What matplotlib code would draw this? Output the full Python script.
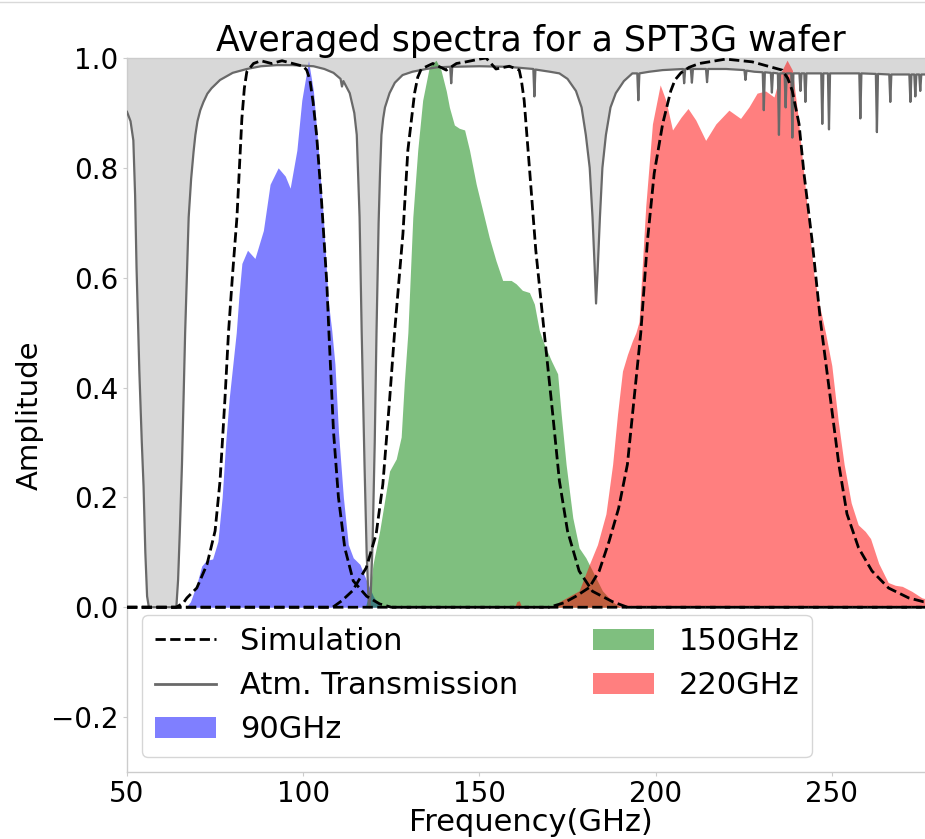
import matplotlib
matplotlib.use("Agg")
import matplotlib.pyplot as plt
from matplotlib.lines import Line2D
from matplotlib.patches import Patch

# ---------------- data ----------------
atm_freq = [50.0, 51.0, 51.8, 52.3, 52.7, 53.2, 53.5, 54.2, 54.7, 55.2, 55.7, 56.2,
            64.0, 64.5, 65.0, 65.6, 66.5, 67.5, 68.2, 68.9, 69.4, 70.0, 70.8, 71.7,
            72.8, 74.0, 76.4, 80.0, 84.0,
            88.0, 92.5, 97.0, 102.9, 106.0, 108.6, 110.6, 111.0, 111.4, 113.2, 114.5, 115.2,
            116.0, 116.6, 117.4, 118.0, 118.5, 118.75, 119.2, 119.7, 120.3, 120.8, 121.4, 121.8,
            122.2, 122.7,
            123.2, 124.5, 126.0, 128.2, 131.0, 134.9, 138.0, 141.7, 142.0, 142.3, 150.0, 158.0,
            165.3, 165.6, 165.9, 170.0, 172.7, 175.0, 177.4, 179.0, 180.2, 181.3, 182.1, 182.7,
            183.1, 183.6, 184.2, 184.9, 185.9, 187.2, 188.7, 191.0, 193.4, 194.8, 195.1, 195.4,
            198.2, 202.0, 207.8, 208.1, 208.4, 210.0, 210.3, 210.6, 214.3, 214.6, 214.9, 220.0,
            225.2, 225.5, 225.8, 228.0, 230.4, 230.7, 231.0, 232.7, 233.0, 233.3, 234.7, 235.0,
            235.3, 236.6, 236.9, 237.2, 238.5, 238.8, 239.1, 240.8, 241.1, 241.4, 242.2, 242.5,
            242.8, 247.0, 247.3, 247.6, 248.9, 249.2, 249.5, 257.8, 258.1, 258.4, 262.5, 262.8,
            263.1, 266.3, 266.6, 266.9, 272.0, 272.3, 272.6, 273.4, 273.7, 274.0, 274.8, 275.1,
            275.4, 279.0]
atm_trans = [0.902, 0.885, 0.85, 0.75, 0.62, 0.50, 0.43, 0.30, 0.22, 0.10, 0.02, 0.0,
             0.0, 0.05, 0.14, 0.26, 0.50, 0.71, 0.78, 0.83, 0.86, 0.885, 0.905, 0.92,
             0.935, 0.945, 0.96, 0.973, 0.98,
             0.985, 0.987, 0.987, 0.985, 0.98, 0.973, 0.962, 0.948, 0.958, 0.936, 0.90, 0.86,
             0.71, 0.50, 0.26, 0.10, 0.02, 0.0, 0.03, 0.12, 0.30, 0.50, 0.70, 0.79,
             0.86, 0.89,
             0.91, 0.936, 0.955, 0.969, 0.975, 0.98, 0.983, 0.984, 0.954, 0.984, 0.985, 0.984,
             0.98, 0.93, 0.979, 0.975, 0.972, 0.962, 0.94, 0.91, 0.86, 0.80, 0.71, 0.62,
             0.553, 0.62, 0.71, 0.80, 0.86, 0.91, 0.936, 0.958, 0.972, 0.972, 0.923, 0.972,
             0.975, 0.978, 0.98, 0.954, 0.98, 0.98, 0.955, 0.98, 0.98, 0.956, 0.98, 0.98,
             0.978, 0.96, 0.977, 0.975, 0.974, 0.905, 0.974, 0.973, 0.937, 0.973, 0.972, 0.86,
             0.972, 0.972, 0.91, 0.972, 0.972, 0.855, 0.972, 0.972, 0.94, 0.972, 0.972, 0.92,
             0.972, 0.972, 0.88, 0.972, 0.972, 0.87, 0.972, 0.972, 0.89, 0.972, 0.971, 0.865,
             0.971, 0.97, 0.92, 0.97, 0.97, 0.92, 0.97, 0.97, 0.93, 0.97, 0.97, 0.94,
             0.97, 0.97]

sim90_freq = [50.0, 64.0, 66.0, 67.0, 69.8, 72.7, 75.0, 76.4, 77.8, 78.8, 80.0, 81.2, 82.6,
              83.3, 84.0, 85.9, 88.0, 91.0, 94.0, 97.0, 100.0, 101.0, 101.9, 102.8, 103.8, 105.2,
              106.7, 107.3, 108.6, 110.0, 111.8, 114.2, 118.0, 121.7, 125.0, 279.0]
sim90_amp = [0.0, 0.0, 0.008, 0.017, 0.035, 0.078, 0.139, 0.23, 0.38, 0.50, 0.61, 0.71, 0.89,
             0.945, 0.975, 0.99, 0.995, 0.99, 0.995, 0.99, 0.985, 0.978, 0.96, 0.92, 0.86, 0.74,
             0.59, 0.50, 0.32, 0.20, 0.108, 0.048, 0.02, 0.006, 0.0, 0.0]

sim150_freq = [50.0, 108.4, 111.0, 114.0, 117.9, 120.7, 122.6, 124.5, 125.9, 127.5, 128.3, 129.7,
               131.6, 132.5, 133.5, 136.8, 140.6, 143.5, 146.2, 150.0, 151.9, 154.7, 158.5, 161.3,
               161.9, 162.7, 164.2, 166.0, 168.4, 170.8, 172.7, 175.0, 178.3, 182.1, 187.8, 192.0,
               279.0]
sim150_amp = [0.0, 0.0, 0.012, 0.03, 0.072, 0.133, 0.224, 0.376, 0.498, 0.62, 0.68, 0.832,
              0.936, 0.965, 0.98, 0.99, 0.978, 0.99, 0.993, 0.998, 1.0, 0.98, 0.985, 0.978,
              0.96, 0.923, 0.80, 0.65, 0.50, 0.352, 0.23, 0.139, 0.066, 0.029, 0.01, 0.0,
              0.0]

sim220_freq = [50.0, 169.8, 174.0, 177.4, 181.2, 184.0, 186.8, 189.5, 192.0, 193.9, 195.8, 197.7,
               199.6, 202.0, 204.3, 205.5, 207.2, 209.5, 212.4, 219.9, 227.4, 235.9, 237.5, 238.8,
               240.7, 242.1, 244.4, 246.8, 249.6, 252.0, 254.3, 257.6, 261.4, 266.1, 271.8, 276.0,
               279.0]
sim220_amp = [0.0, 0.0, 0.008, 0.02, 0.036, 0.066, 0.12, 0.18, 0.26, 0.38, 0.50, 0.668,
              0.79, 0.88, 0.94, 0.96, 0.973, 0.983, 0.99, 0.998, 0.993, 0.978, 0.963, 0.94,
              0.88, 0.79, 0.668, 0.52, 0.38, 0.26, 0.17, 0.108, 0.066, 0.035, 0.017, 0.01,
              0.009]

b90_freq = [66.8, 68.0, 69.8, 71.2, 72.5, 74.3, 75.8, 77.0, 78.0, 79.0, 80.0, 81.0,
            81.8, 82.6, 84.2, 86.3, 88.7, 90.6, 92.9, 94.9, 96.3, 98.2, 99.6, 101.5,
            102.9, 104.3, 105.7, 107.1, 108.1, 109.0, 110.0, 111.4, 112.8, 114.2, 116.1, 118.0,
            119.9, 122.0]
b90_amp = [0.0, 0.01, 0.042, 0.075, 0.085, 0.088, 0.12, 0.2, 0.3, 0.38, 0.44, 0.5,
           0.57, 0.626, 0.65, 0.635, 0.686, 0.77, 0.80, 0.785, 0.763, 0.832, 0.923, 0.995,
           0.94, 0.832, 0.71, 0.558, 0.504, 0.443, 0.32, 0.2, 0.114, 0.09, 0.078, 0.048,
           0.02, 0.0]

b150_freq = [117.6, 118.5, 119.3, 119.8, 121.7, 124.5, 126.4, 127.8, 128.7, 129.7, 131.1, 132.5,
             133.9, 135.8, 137.7, 139.1, 140.6, 141.5, 142.9, 144.3, 145.8, 147.2, 149.1, 150.9,
             152.8, 154.7, 156.6, 159.0, 160.4, 162.2, 164.2, 165.6, 167.0, 168.0, 170.4, 172.2,
             173.2, 174.6, 176.5, 178.3, 180.2, 182.1, 184.9, 187.8, 190.0]
b150_amp = [0.0, 0.02, 0.05, 0.078, 0.139, 0.248, 0.27, 0.31, 0.41, 0.50, 0.71, 0.832,
            0.923, 0.984, 0.996, 0.978, 0.94, 0.91, 0.878, 0.872, 0.869, 0.832, 0.77, 0.723,
            0.673, 0.631, 0.595, 0.595, 0.589, 0.577, 0.573, 0.552, 0.504, 0.485, 0.449, 0.425,
            0.352, 0.26, 0.163, 0.108, 0.09, 0.066, 0.03, 0.01, 0.0]

b220_freq = [160.0, 160.6, 161.3, 162.0, 171.0, 172.7, 175.5, 178.3, 181.2, 183.5, 185.9, 187.8,
             189.2, 190.6, 192.0, 193.4, 194.4, 195.3, 197.2, 199.1, 201.3, 202.9, 204.8, 207.2,
             209.2, 211.4, 214.2, 217.1, 220.8, 224.1, 226.5, 228.8, 231.2, 233.6, 235.5, 237.3,
             238.8, 240.3, 241.1, 243.0, 244.9, 246.5, 248.2, 250.0, 251.8, 253.5, 255.5, 257.5,
             259.5, 261.0, 263.3, 266.0, 268.0, 270.0, 272.7, 275.6, 279.0]
b220_amp = [0.0, 0.01, 0.012, 0.0, 0.0, 0.01, 0.02, 0.03, 0.078, 0.114, 0.17, 0.26,
            0.352, 0.43, 0.46, 0.485, 0.50, 0.52, 0.73, 0.88, 0.951, 0.923, 0.869, 0.892,
            0.908, 0.887, 0.85, 0.88, 0.905, 0.89, 0.911, 0.936, 0.94, 0.929, 0.973, 0.996,
            0.978, 0.90, 0.85, 0.73, 0.607, 0.55, 0.50, 0.44, 0.34, 0.26, 0.19, 0.15,
            0.138, 0.125, 0.08, 0.045, 0.04, 0.038, 0.029, 0.017, 0.012]

x_ticks = [50, 100, 150, 200, 250]
y_ticks = [-0.2, 0.0, 0.2, 0.4, 0.6, 0.8, 1.0]

# ---------------- figure ----------------
fig = plt.figure(figsize=(9.25, 8.39), dpi=100)
ax = fig.add_axes([127 / 925, 1 - 772 / 839, 807 / 925, 714 / 839])

ax.fill_between(atm_freq, atm_trans, 1.0, color='gray', alpha=0.3, lw=0, zorder=1)

ax.fill_between(b90_freq, b90_amp, 0, color='blue', alpha=0.5, lw=0, zorder=2)
ax.fill_between(b150_freq, b150_amp, 0, color='green', alpha=0.5, lw=0, zorder=2)
ax.fill_between(b220_freq, b220_amp, 0, color='red', alpha=0.5, lw=0, zorder=2)

ax.plot(atm_freq, atm_trans, color='dimgray', lw=1.6, zorder=3)

for fx, fy in [(sim90_freq, sim90_amp), (sim150_freq, sim150_amp), (sim220_freq, sim220_amp)]:
    ax.plot(fx, fy, 'k--', lw=2.0, zorder=4)

ax.set_xlim(50, 279)
ax.set_ylim(-0.3, 1.0)
ax.set_xticks(x_ticks)
ax.set_yticks(y_ticks)
ax.tick_params(labelsize=20, length=3, color='0.8', pad=3)

for s in ax.spines.values():
    s.set_color('0.8')
    s.set_linewidth(1.0)

ax.set_title('Averaged spectra for a SPT3G wafer', fontsize=25, pad=2)
ax.set_xlabel('Frequency(GHz)', fontsize=22, labelpad=-0.5)
ax.set_ylabel('Amplitude', fontsize=21, labelpad=5)

handles = [
    Line2D([], [], color='k', ls='--', lw=2.0),
    Line2D([], [], color='dimgray', lw=2.0),
    Patch(facecolor='blue', alpha=0.5, lw=0),
    Patch(facecolor='green', alpha=0.5, lw=0),
    Patch(facecolor='red', alpha=0.5, lw=0),
]
labels = ['Simulation', 'Atm. Transmission', '90GHz', '150GHz', '220GHz']
ax.legend(handles, labels, loc='lower left', ncol=2, fontsize=22, columnspacing=2.45)

# thin border line along the top edge of the image
fig.add_artist(Line2D([0, 1], [0.9975, 0.9975], transform=fig.transFigure,
                      color='0.85', lw=1.0))

fig.savefig('out.png', dpi=100)
